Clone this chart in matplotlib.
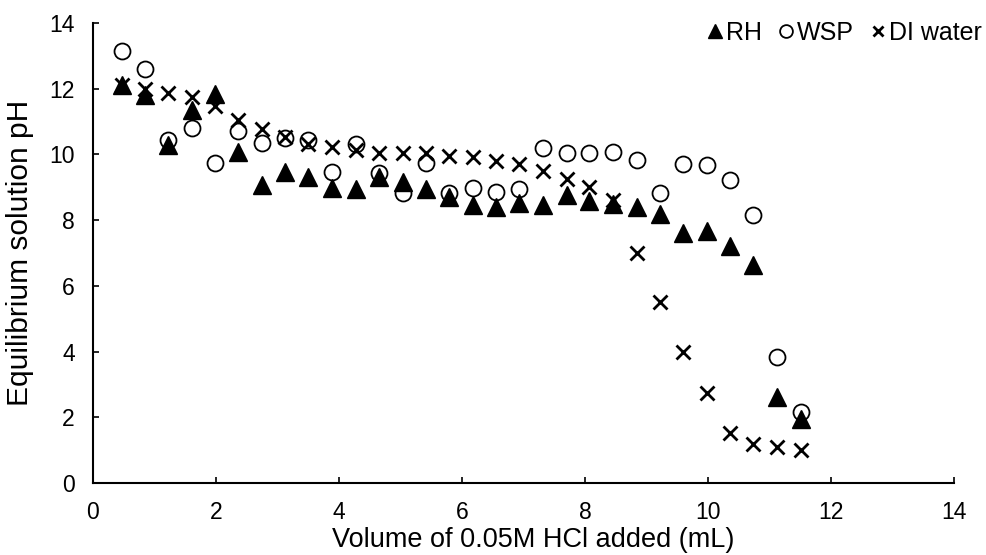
import matplotlib
matplotlib.use('Agg')
import matplotlib.pyplot as plt

plt.rcParams['font.family'] = ['Liberation Sans', 'DejaVu Sans']

# volume of 0.05M HCl added (mL)
vol = [0.47, 0.85, 1.22, 1.61, 1.98, 2.36, 2.75, 3.12, 3.50, 3.89,
       4.27, 4.65, 5.04, 5.41, 5.79, 6.18, 6.55, 6.93, 7.32, 7.71,
       8.07, 8.46, 8.85, 9.22, 9.59, 9.98, 10.36, 10.73, 11.12, 11.51]

# equilibrium pH per sample
rh = [12.1, 11.8, 10.3, 11.35, 11.85, 10.08, 9.07, 9.47, 9.32, 8.97,
      8.94, 9.3, 9.15, 8.95, 8.72, 8.47, 8.39, 8.52, 8.45, 8.76,
      8.59, 8.49, 8.4, 8.18, 7.62, 7.68, 7.21, 6.63, 2.63, 1.94]
wsp = [13.16, 12.6, 10.45, 10.82, 9.73, 10.72, 10.36, 10.49, 10.45, 9.47,
       10.32, 9.43, 8.83, 9.75, 8.83, 8.97, 8.87, 8.94, 10.19, 10.03,
       10.03, 10.08, 9.83, 8.83, 9.71, 9.68, 9.22, 8.16, 3.84, 2.17]
di = [12.1, 11.98, 11.86, 11.76, 11.47, 11.05, 10.79, 10.54, 10.32, 10.24,
      10.14, 10.03, 10.03, 10.03, 9.95, 9.91, 9.81, 9.71, 9.5, 9.24,
      9.02, 8.6, 6.99, 5.52, 4.0, 2.75, 1.51, 1.18, 1.1, 1.0]

ticks = [0, 2, 4, 6, 8, 10, 12, 14]

fig = plt.figure(figsize=(9.86, 5.55), dpi=100)
ax = fig.add_axes([0.0943, 0.1297, 0.8732, 0.8288])

ax.plot(vol, rh, linestyle='none', marker='^', ms=12.5, color='black', label='RH')
ax.plot(vol, wsp, linestyle='none', marker='o', ms=11.5, mew=1.3,
        markerfacecolor='none', markeredgecolor='black', label='WSP')
ax.plot(vol, di, linestyle='none', marker='x', ms=9.5, mew=2, color='black',
        label='DI water')

ax.set_xlim(0, 14)
ax.set_ylim(0, 14)
ax.set_xticks(ticks)
ax.set_yticks(ticks)
ax.tick_params(direction='in', length=4.5, width=1.2, labelsize=16.5, pad=13)
for s in ['top', 'right']:
    ax.spines[s].set_visible(False)
for s in ['left', 'bottom']:
    ax.spines[s].set_linewidth(1.5)

ax.set_xlabel('Volume of 0.05M HCl added (mL)', fontsize=19.5)
ax.set_ylabel('Equilibrium solution pH', fontsize=21.5)
ax.xaxis.set_label_coords(0.511, -0.095)
ax.yaxis.set_label_coords(-0.068, 0.5)

fig.legend(loc='center right', bbox_to_anchor=(1.006, 1 - 33 / 555), ncol=3,
           frameon=False, fontsize=18, markerscale=0.8, handlelength=0.7,
           handletextpad=0.1, columnspacing=0.6, borderaxespad=0)

fig.savefig('out.png', dpi=100)
